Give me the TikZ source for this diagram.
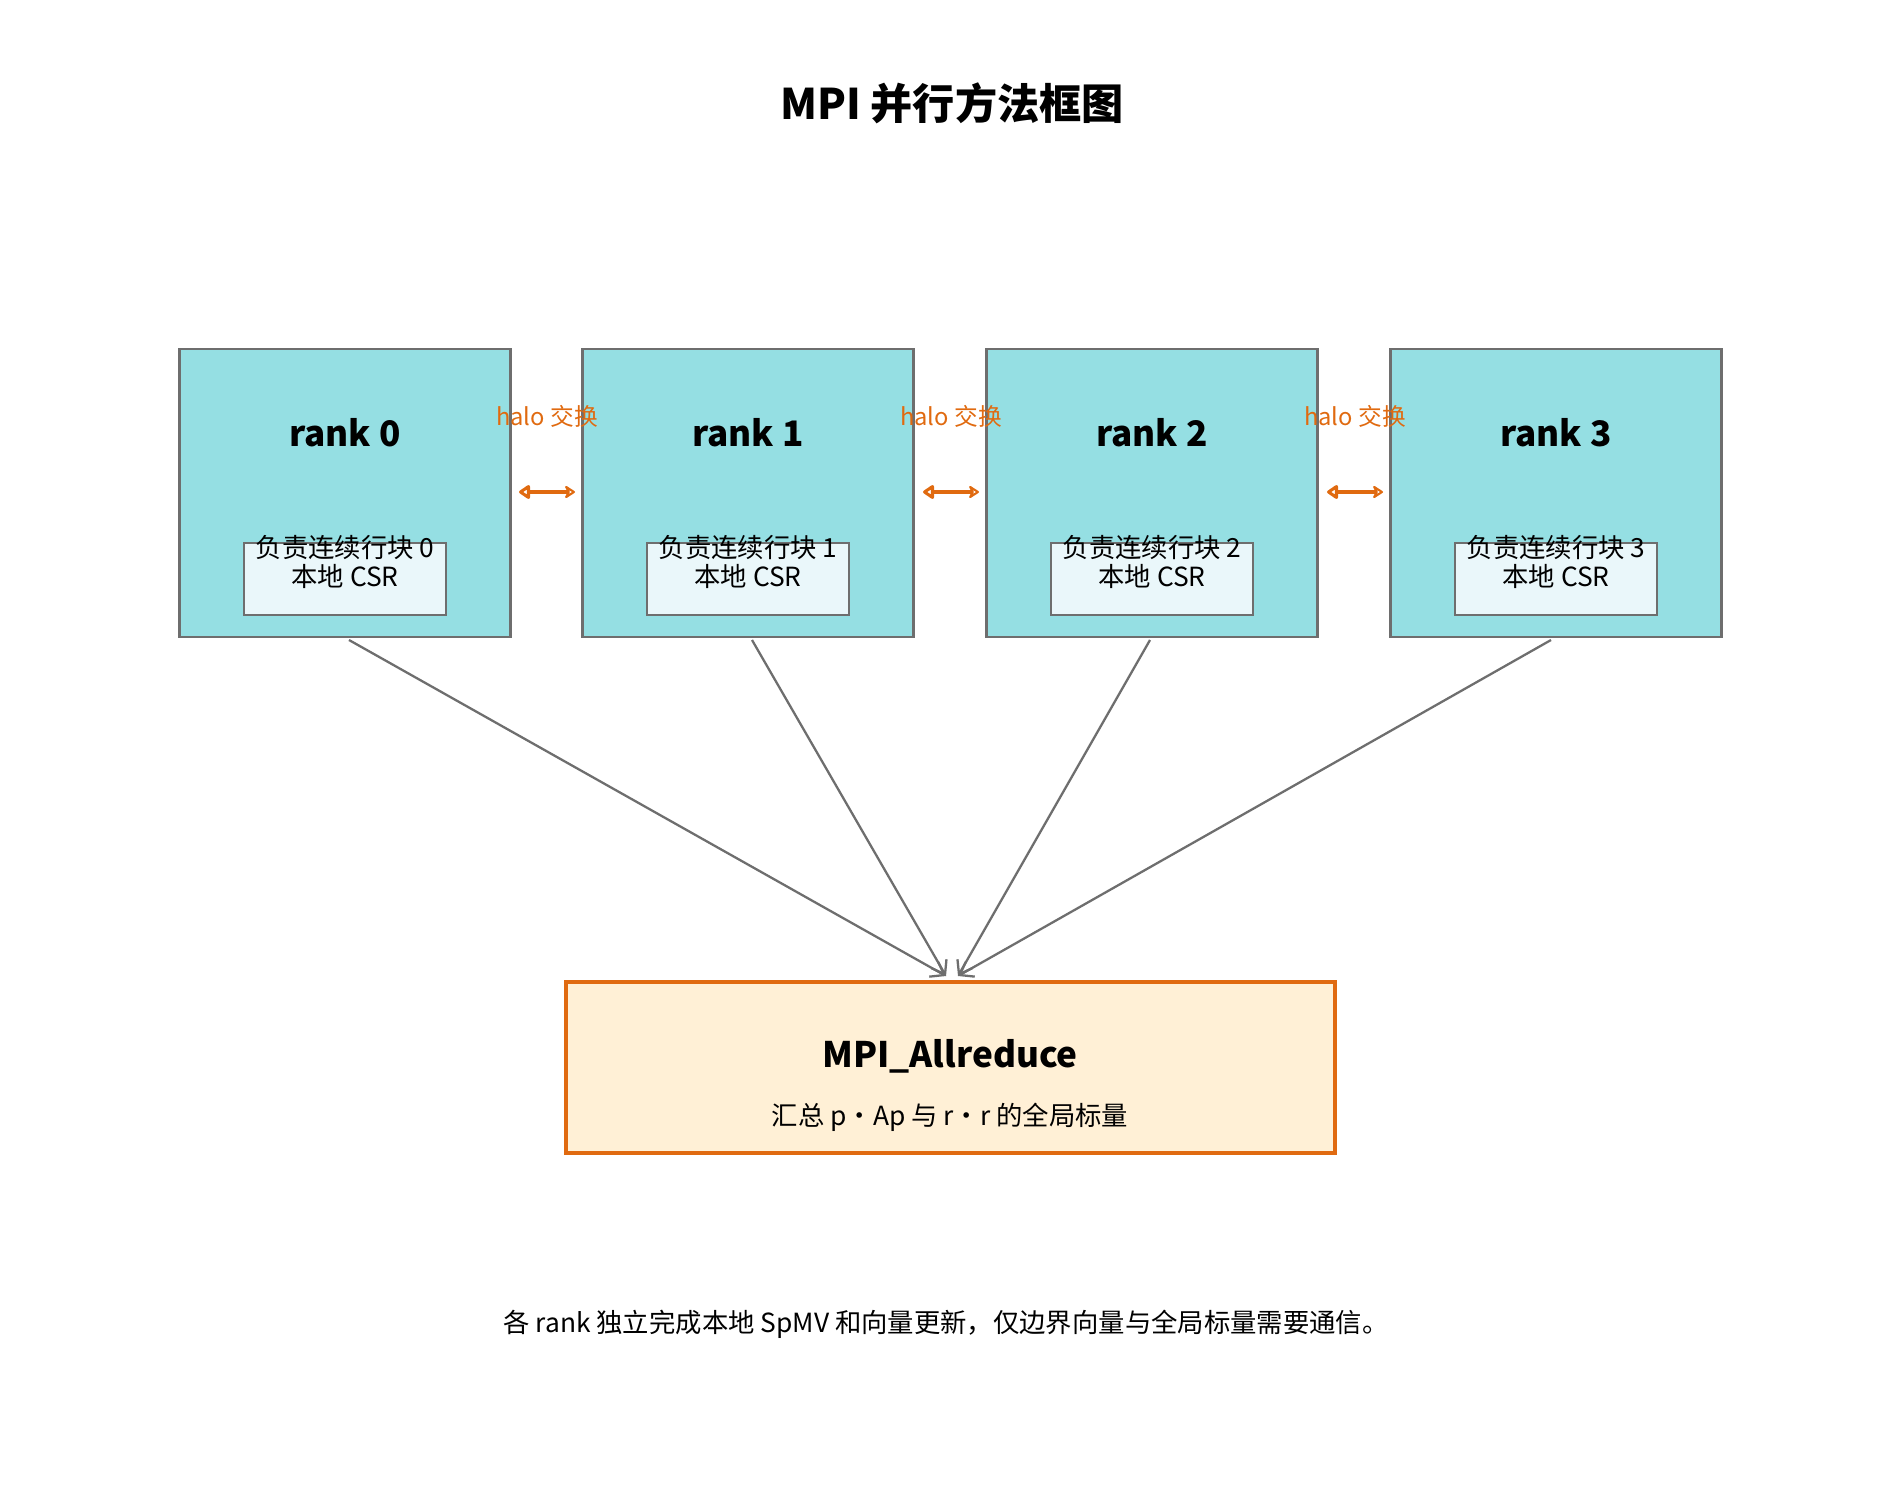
\documentclass[tikz,border=0pt]{standalone}
\usepackage{fontspec}
\setmainfont{Noto Sans CJK SC}
\usetikzlibrary{arrows.meta}
\definecolor{teal1}{HTML}{95DFE3}
\definecolor{gr}{HTML}{6E6E6E}
\definecolor{inn}{HTML}{EAF7FA}
\definecolor{org}{HTML}{E06A10}
\definecolor{cream}{HTML}{FFF0D6}
\begin{document}
\begin{tikzpicture}[x=0.02cm,y=-0.02cm,
 rank/.style={draw=gr,line width=1.6pt,fill=teal1,minimum width=331*0.02cm,minimum height=288*0.02cm,inner sep=0},
 inner/.style={draw=gr,line width=1.2pt,fill=inn,minimum width=202*0.02cm,minimum height=72*0.02cm,inner sep=0},
 lbl/.style={font=\fontsize{20}{24}\selectfont\bfseries},
 sm/.style={font=\fontsize{15}{18}\selectfont},
 halo/.style={font=\fontsize{13.5}{16}\selectfont,text=org},
 harr/.style={{Stealth[length=7pt,width=9pt,inset=0pt,open,round]}-{Stealth[length=7pt,width=9pt,open,round]},draw=org,line width=2.2pt},
 conn/.style={-{Straight Barb[length=7pt,width=10pt]},draw=gr,line width=1.3pt}]
\useasboundingbox (0,0) rectangle (1892,1496);
\node[font=\fontsize{24}{28}\selectfont\bfseries] (title) at (952,103) {MPI 并行方法框图};
\foreach \i/\x in {0/345,1/748,2/1152,3/1556}{
 \node[rank] (r\i) at (\x,493) {};
 \node[lbl] (l\i) at (\x,433) {rank \i};
 \node[inner] (in\i) at (\x,579) {};
 \node[sm] (t\i) at (\x,548) {负责连续行块 \i};
 \node[sm] (c\i) at (\x,576) {本地 CSR};
}
\foreach \a/\b/\x in {0/1/547,1/2/951,2/3/1355}{
 \node[halo] (h\a) at (\x,416) {halo 交换};
 \coordinate (hl\a) at (\x-28,492);
 \coordinate (hr\a) at (\x+28,492);
 \draw[harr] (hl\a) -- (hr\a);
}
\node[draw=org,line width=1.8pt,fill=cream,minimum width=769*0.02cm,minimum height=171*0.02cm] (ar) at (950.5,1067.5) {};
\node[font=\fontsize{20}{24}\selectfont\bfseries] (art) at (950,1056) {MPI\_Allreduce};
\node[sm] (ars) at (950,1117) {汇总 p·Ap 与 r·r 的全局标量};
\coordinate (e0) at (946,976);
\coordinate (e1) at (946,976);
\coordinate (e2) at (958,976);
\coordinate (e3) at (958,976);
\foreach \i/\x in {0/349,1/752,2/1150,3/1551}{
 \coordinate (s\i) at (\x,640);
 \draw[conn] (s\i) -- (e\i);
}
\node[sm] (foot) at (946,1324) {各 rank 独立完成本地 SpMV 和向量更新，仅边界向量与全局标量需要通信。};
\end{tikzpicture}
\end{document}
